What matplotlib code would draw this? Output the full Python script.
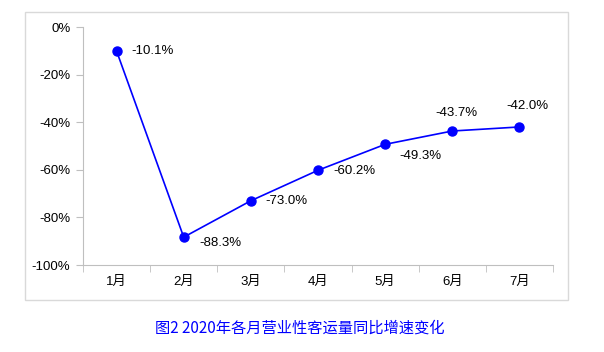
import matplotlib
matplotlib.use("Agg")
import matplotlib.pyplot as plt
from matplotlib.patches import Rectangle
from matplotlib.ticker import FixedLocator

plt.rcParams['font.family'] = ['Liberation Sans', 'Noto Sans CJK SC', 'DejaVu Sans']

# ── Data ──────────────────────────────────────────────────────────────────────
months = ["1月", "2月", "3月", "4月", "5月", "6月", "7月"]
growth = [-10.1, -88.3, -73.0, -60.2, -49.3, -43.7, -42.0]
y_ticks = [0, -20, -40, -60, -80, -100]
title = "图2 2020年各月营业性客运量同比增速变化"

# label offsets in pixels (dx, dy, ha)
offsets = [(15, 0, "left"), (16, -6, "left"), (15, 0, "left"), (15, -1, "left"),
           (14, -12, "left"), (4, 18, "center"), (8, 21, "center")]

BLUE = "#0000FF"
GRAY = "#BFBFBF"

fig = plt.figure(figsize=(6.04, 3.52), dpi=100)
fig.add_artist(Rectangle((25 / 604, 1 - 300 / 352), (568 - 25) / 604, (300 - 12) / 352,
                         transform=fig.transFigure, fill=False, edgecolor="#D9D9D9", lw=1))

ax = fig.add_axes([83 / 604, 1 - 265 / 352, (553 - 83) / 604, (265 - 27) / 352])
x = list(range(len(months)))
ax.plot(x, growth, color=BLUE, lw=1.2, marker="o", ms=6.5, mfc=BLUE, mec=BLUE)

for xi, v, (dx, dy, ha) in zip(x, growth, offsets):
    ax.annotate(f"{v:.1f}%", (xi, v), xytext=(dx, dy), textcoords="offset pixels",
                ha=ha, va="center", fontsize=9.5, color="black")

ax.set_xlim(-0.5, 6.5)
ax.set_ylim(-100, 0)
ax.set_yticks(y_ticks)
ax.set_yticklabels([f"{t}%" for t in y_ticks], fontsize=9.5)
ax.set_xticks(x)
ax.set_xticklabels(months, fontsize=9.5)
ax.tick_params(axis="x", which="major", length=0, pad=8)
ax.xaxis.set_minor_locator(FixedLocator([i - 0.5 for i in range(len(months) + 1)]))
ax.tick_params(axis="x", which="minor", length=5, color=GRAY)
ax.tick_params(axis="y", length=5, color=GRAY, pad=4)

for s in ["top", "right"]:
    ax.spines[s].set_visible(False)
for s in ["left", "bottom"]:
    ax.spines[s].set_color(GRAY)
for line in ax.get_lines():
    line.set_clip_on(False)

fig.text(300 / 604, 1 - 328 / 352, title, ha="center", va="center", fontsize=11,
         color=BLUE, family=["Noto Sans CJK SC", "DejaVu Sans"])

plt.savefig("out.png", dpi=100)
